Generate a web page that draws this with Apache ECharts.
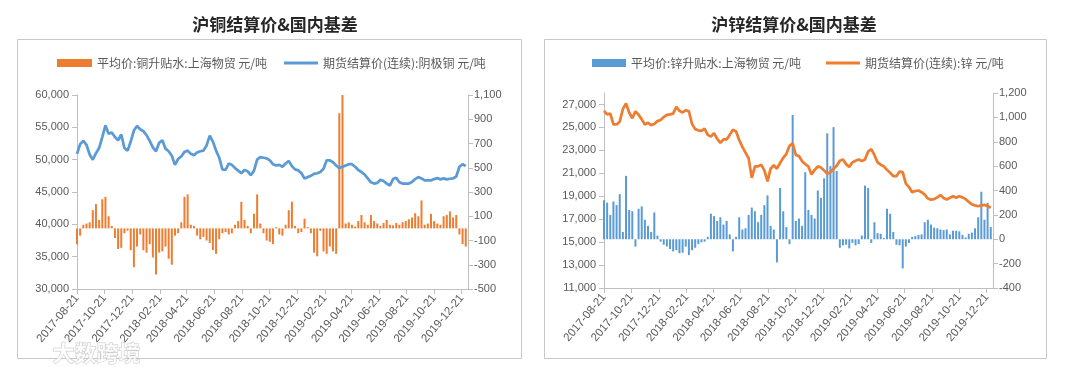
<!DOCTYPE html>
<html><head><meta charset="utf-8">
<script src="https://cdn.jsdelivr.net/npm/echarts@6/dist/echarts.min.js"></script>
<style>html,body{margin:0;padding:0;background:#fff}#c{width:1080px;height:367px}</style>
</head><body><div id="c"></div>
<script>
// ---------- data ----------
const startDate = '2017-08-21';           // first weekly sample
const endDate = '2020-01-04';             // axis end
const xTickLabels = ['2017-08-21','2017-10-21','2017-12-21','2018-02-21','2018-04-21','2018-06-21','2018-08-21','2018-10-21','2018-12-21','2019-02-21','2019-04-21','2019-06-21','2019-08-21','2019-10-21','2019-12-21'];

const cuTitle = '沪铜结算价&国内基差';
const znTitle = '沪锌结算价&国内基差';
const cuBasisName = '平均价:铜升贴水:上海物贸 元/吨';
const cuPriceName = '期货结算价(连续):阴极铜 元/吨';
const znBasisName = '平均价:锌升贴水:上海物贸 元/吨';
const znPriceName = '期货结算价(连续):锌 元/吨';

// weekly readings (one per week from startDate)
const cuPrice = [50900,52400,52900,52300,50800,50000,51000,51800,53500,55300,
54000,54200,53500,53000,53900,51800,51400,52800,54500,55200,
54700,54400,53800,52900,51900,51300,52600,53000,51700,51300,
50600,49200,50100,50500,51200,51400,50900,50700,51100,51300,
51400,52200,53700,52800,51400,50300,48500,48400,49400,49200,
48700,48300,47900,48400,48200,47600,48300,50000,50400,50300,
50200,49900,49300,49100,49200,48900,49400,49800,49000,48500,
48350,47900,47100,47300,47500,47800,47900,48100,48600,49900,
49900,49600,49100,48700,48900,49100,49300,49300,48900,48400,
48100,47700,47100,46500,46300,46400,46900,46700,46300,46000,
47000,47200,46500,46300,46300,46300,46550,47000,47300,47100,
46800,46800,46800,47000,47150,46950,47100,46950,47050,47100,
47400,48900,49300,49000];
const cuBasis = [-130,-60,30,40,50,150,200,70,240,260,
100,20,-80,-170,-160,-40,-20,-180,-320,-150,
-50,-180,-200,-130,-240,-380,-200,-190,-150,-250,
-300,-60,-40,50,260,280,30,20,-60,-90,
-70,-100,-120,-180,-210,-90,-40,-30,-50,-40,
30,60,220,70,20,-40,120,280,40,-40,
-100,-110,-130,10,-50,-60,30,150,220,20,
-40,-30,80,10,-40,-200,-230,-20,-190,-210,
-150,-190,-210,950,1100,40,50,30,15,60,
110,50,30,110,60,40,20,45,70,30,
25,45,30,50,60,75,90,125,100,230,
30,40,120,60,40,30,100,110,140,90,
110,-50,-130,-150];
const znPrice = [26450,26130,26200,25260,25260,25500,26600,27100,26300,25800,
26400,26100,25700,25260,25400,25200,25300,25550,25650,25900,
26100,26130,26200,26800,26450,26300,26500,26400,25300,24850,
24750,24700,24900,24350,24200,24500,24000,23650,23950,23950,
24350,24800,24650,23900,23300,22800,22300,20600,21600,21600,
21750,21250,20300,21400,21700,21400,21900,22350,22700,23400,
23600,22600,22500,22050,21800,21600,20900,21300,21600,21500,
21250,20950,21100,21400,21650,22100,22200,21800,21550,21950,
22100,22200,22060,22200,22900,23100,22600,21950,21750,21600,
21300,21050,20750,20750,21150,21100,20100,19800,19350,19450,
19500,19350,19150,18800,18700,18750,18900,19100,18850,18710,
18860,19000,18860,19000,18900,18750,18500,18300,18200,18130,
18200,18250,18150,18000];
const znBasis = [320,300,200,310,280,370,60,520,240,230,
-60,250,270,160,110,60,220,30,-20,-45,
-60,-80,-100,-90,-115,-110,-60,-130,-90,-70,
-40,-25,-20,20,210,190,150,180,120,150,
40,-100,20,180,80,90,200,260,230,140,
200,280,360,110,80,-190,420,230,100,-40,
1020,150,170,110,550,240,200,170,400,340,
500,870,600,920,560,-70,-50,-45,-75,-30,
-50,-40,30,440,420,-30,140,50,45,10,
250,210,60,-45,-50,-240,-60,-30,20,25,
35,40,140,160,120,95,90,80,75,80,
40,70,70,65,36,15,45,55,90,180,
390,160,300,100];

// ---------- helpers ----------
function parseDay(s){ const p=s.split('-').map(Number); return new Date(p[0],p[1]-1,p[2]).getTime(); }
function pad(n){ return n<10?'0'+n:''+n; }
function fmtDate(v){ const d=new Date(v); return d.getFullYear()+'-'+pad(d.getMonth()+1)+'-'+pad(d.getDate()); }
function fmtNum(v){ return Number(v).toLocaleString('en-US'); }
const t0 = parseDay(startDate);
const weekDates = cuPrice.map((_,k)=>{ const d=new Date(t0); d.setDate(d.getDate()+7*k); return d.getTime(); });
const pairs = arr => arr.map((v,i)=>[weekDates[i], v]);
const tickVals = xTickLabels.map(parseDay);
const tMin = t0, tMax = parseDay(endDate);

const axisColor = '#BFBFBF', labelColor = '#595959';
const numFont = "'Liberation Sans','DejaVu Sans',sans-serif";
const cjkFont = "'Noto Sans CJK SC',sans-serif";

function xAxis(g){
  return {type:'value', gridIndex:g, min:tMin, max:tMax, scale:true,
    axisLine:{show:true, onZero:false, lineStyle:{color:axisColor}},
    axisTick:{show:true, customValues:tickVals, length:5, lineStyle:{color:axisColor}},
    axisLabel:{customValues:tickVals, rotate:50, formatter:fmtDate, color:labelColor, fontSize:11.5, fontFamily:numFont, margin:7, hideOverlap:false},
    splitLine:{show:false}};
}
function yAxis(g, pos, min, max, interval, margin, custom){
  const a = {type:'value', gridIndex:g, position:pos, min:min, max:max, interval:interval,
    axisLine:{show:true, lineStyle:{color:axisColor}},
    axisTick:{show:true, length:5, lineStyle:{color:axisColor}},
    axisLabel:{formatter:fmtNum, color:labelColor, fontSize:11, fontFamily:numFont, margin:margin},
    splitLine:{show:false}};
  if (custom){ a.axisLabel.customValues = custom; a.axisTick.customValues = custom; }
  return a;
}
function legend(name, left, w, h){
  return {data:[{name:name, icon:'rect'}], left:left, top:57, padding:0, itemWidth:w, itemHeight:h, itemGap:5,
    textStyle:{color:labelColor, fontSize:12, fontFamily:cjkFont}, selectedMode:false};
}
const znLeftTicks = [11000,13000,15000,17000,19000,21000,23000,25000,27000];

const chart = echarts.init(document.getElementById('c'), null, {renderer:'canvas'});
chart.setOption({
  animation:false,
  backgroundColor:'#fff',
  title:[
    {text:cuTitle, left:275, top:16, textAlign:'center', padding:0, textStyle:{fontSize:17, fontWeight:'bold', color:'#262626', fontFamily:cjkFont}},
    {text:znTitle, left:794, top:16, textAlign:'center', padding:0, textStyle:{fontSize:17, fontWeight:'bold', color:'#262626', fontFamily:cjkFont}}
  ],
  legend:[
    legend(cuBasisName, 57, 35, 8),
    legend(cuPriceName, 284, 34, 3),
    legend(znBasisName, 592, 34, 8),
    legend(znPriceName, 826, 34, 3)
  ],
  grid:[
    {left:77, top:95, width:391, height:194},
    {left:604, top:93, width:389, height:195}
  ],
  xAxis:[xAxis(0), xAxis(1)],
  yAxis:[
    yAxis(0,'left',30000,60000,5000,8),
    yAxis(0,'right',-500,1100,200,6),
    yAxis(1,'left',11000,28000,2000,8, znLeftTicks),
    yAxis(1,'right',-400,1200,200,6)
  ],
  series:[
    {type:'bar', name:cuBasisName, xAxisIndex:0, yAxisIndex:1, data:pairs(cuBasis), barWidth:2, itemStyle:{color:'#ED7D31'}, z:1},
    {type:'line', name:cuPriceName, xAxisIndex:0, yAxisIndex:0, data:pairs(cuPrice), symbol:'none', showSymbol:false, lineStyle:{width:2.75, color:'#5B9BD5'}, itemStyle:{color:'#5B9BD5'}, z:3},
    {type:'bar', name:znBasisName, xAxisIndex:1, yAxisIndex:3, data:pairs(znBasis), barWidth:2, itemStyle:{color:'#5B9BD5'}, z:1},
    {type:'line', name:znPriceName, xAxisIndex:1, yAxisIndex:2, data:pairs(znPrice), symbol:'none', showSymbol:false, lineStyle:{width:2.75, color:'#ED7D31'}, itemStyle:{color:'#ED7D31'}, z:3}
  ],
  graphic:[
    {type:'rect', shape:{x:17.5, y:39.5, width:504, height:319}, style:{fill:'none', stroke:'#C8C8C8', lineWidth:1}, silent:true, z:-1},
    {type:'rect', shape:{x:544.5, y:39.5, width:502, height:319}, style:{fill:'none', stroke:'#C8C8C8', lineWidth:1}, silent:true, z:-1},
    {type:'text', left:52, top:341, style:{text:'大数跨境', fontSize:22, fontWeight:'bold', fontFamily:cjkFont, fill:'rgba(255,255,255,0.7)', stroke:'rgba(170,170,170,0.6)', lineWidth:1}, silent:true, z:10}
  ]
});
</script>
</body></html>
